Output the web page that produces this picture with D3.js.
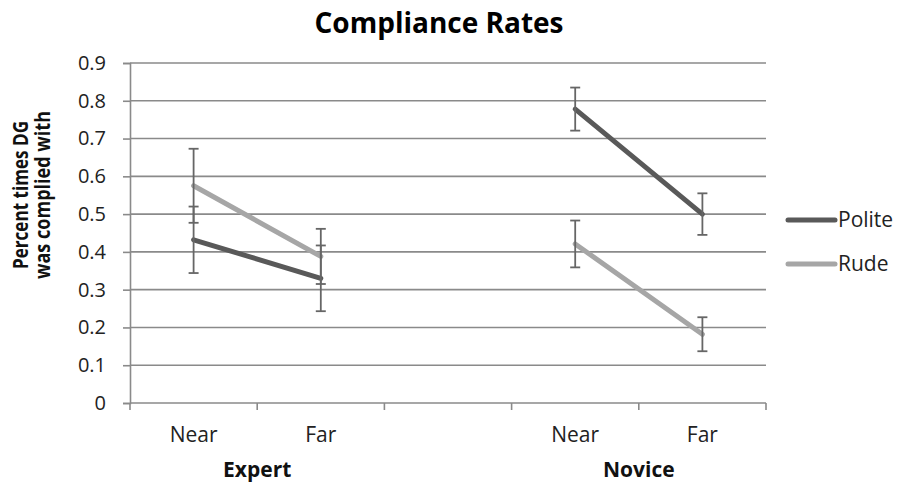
<!DOCTYPE html>
<html><head><meta charset="utf-8">
<script src="https://cdn.jsdelivr.net/npm/d3@7"></script>
<style>body{margin:0;background:#fff}text{font-family:"Open Sans","Liberation Sans",sans-serif}</style>
</head><body>
<svg id="c" width="899" height="482"></svg>
<script>
const categories = ["Expert|Near","Expert|Far","gap","Novice|Near","Novice|Far"];
const catLabels = ["Near","Far","","Near","Far"];
const groups = [{name:"Expert", from:0, to:1},{name:"Novice", from:3, to:4}];
const politeVals = [0.432, 0.330, null, 0.778, 0.500];
const politeErr  = [0.088, 0.087, null, 0.057, 0.055];
const rudeVals   = [0.575, 0.388, null, 0.421, 0.182];
const rudeErr    = [0.098, 0.073, null, 0.062, 0.045];
const yTicks = [0,0.1,0.2,0.3,0.4,0.5,0.6,0.7,0.8,0.9];
const seriesNames = ["Polite","Rude"];
const seriesColors = ["#595959","#a6a6a6"];

const svg = d3.select("#c");
const L=130, R=766, T=63, B=403;
const x = d3.scaleBand().domain(categories).range([L,R]);
const y = d3.scaleLinear().domain([0,0.9]).range([B,T]);
const cx = c => x(c)+x.bandwidth()/2;
const grid = "#8a8a8a";

// gridlines
svg.append("g").selectAll("line").data(yTicks.filter(d=>d>0)).join("line")
  .attr("x1",L).attr("x2",R).attr("y1",d=>y(d)).attr("y2",d=>y(d))
  .attr("stroke",grid).attr("stroke-width",1.6);

// y axis
const ya = svg.append("g").attr("transform",`translate(${L},0)`)
  .call(d3.axisLeft(y).tickValues(yTicks).tickSize(7).tickPadding(17).tickFormat(d=>d===0?"0":d3.format(".1f")(d)));
ya.select(".domain").attr("stroke",grid).attr("stroke-width",1.6);
ya.selectAll(".tick line").attr("stroke",grid).attr("stroke-width",1.6);
ya.selectAll(".tick text").attr("font-size",20).attr("fill","#222").attr("font-family","'Open Sans',sans-serif");

// x axis
svg.append("line").attr("x1",L).attr("x2",R).attr("y1",B).attr("y2",B).attr("stroke",grid).attr("stroke-width",1.6);
const bounds = categories.map(c=>x(c)).concat([R]);
svg.append("g").selectAll("line").data(bounds).join("line")
  .attr("x1",d=>d).attr("x2",d=>d).attr("y1",B).attr("y2",B+7)
  .attr("stroke",grid).attr("stroke-width",1.6);
svg.append("g").selectAll("text").data(categories).join("text")
  .attr("x",cx).attr("y",442).attr("text-anchor","middle")
  .attr("font-size",21).attr("fill","#222").text((d,i)=>catLabels[i]);
svg.append("g").selectAll("text").data(groups).join("text")
  .attr("x",g=>(cx(categories[g.from])+cx(categories[g.to]))/2).attr("y",477)
  .attr("text-anchor","middle").attr("font-size",21).attr("font-weight","bold").attr("fill","#111")
  .text(g=>g.name);

// series
const series = [
  {name:seriesNames[0], vals:politeVals, err:politeErr, color:seriesColors[0]},
  {name:seriesNames[1], vals:rudeVals, err:rudeErr, color:seriesColors[1]}
];
const line = d3.line().defined(d=>d.v!=null).x(d=>cx(d.c)).y(d=>y(d.v));
series.forEach(s=>{
  const pts = categories.map((c,i)=>({c, v:s.vals[i], e:s.err[i]}));
  groups.forEach(g=>{
    const seg = pts.slice(g.from,g.to+1);
    svg.append("path").datum(seg).attr("d",line).attr("fill","none")
      .attr("stroke",s.color).attr("stroke-width",5).attr("stroke-linecap","round");
  });
});
// error bars
series.forEach(s=>{
  const pts = categories.map((c,i)=>({c, v:s.vals[i], e:s.err[i]})).filter(d=>d.v!=null);
  const g = svg.append("g").attr("stroke","#666").attr("stroke-width",1.8);
  g.selectAll(".v").data(pts).join("line").attr("x1",d=>cx(d.c)).attr("x2",d=>cx(d.c))
    .attr("y1",d=>y(d.v+d.e)).attr("y2",d=>y(d.v-d.e));
  g.selectAll(".t").data(pts).join("line").attr("x1",d=>cx(d.c)-5).attr("x2",d=>cx(d.c)+5)
    .attr("y1",d=>y(d.v+d.e)).attr("y2",d=>y(d.v+d.e));
  g.selectAll(".b").data(pts).join("line").attr("x1",d=>cx(d.c)-5).attr("x2",d=>cx(d.c)+5)
    .attr("y1",d=>y(d.v-d.e)).attr("y2",d=>y(d.v-d.e));
});

// legend
const lg = svg.append("g");
series.forEach((s,i)=>{
  const yy = 220 + i*44;
  lg.append("line").attr("x1",788).attr("x2",835).attr("y1",yy).attr("y2",yy)
    .attr("stroke",s.color).attr("stroke-width",5).attr("stroke-linecap","round");
  lg.append("text").attr("x",838).attr("y",yy+7).attr("font-size",21).attr("fill","#222").text(s.name);
});

// title
svg.append("text").attr("x",439).attr("y",33).attr("text-anchor","middle")
  .attr("font-size",28).attr("font-weight","bold").attr("fill","#000").text("Compliance Rates");

// y title
const yt = svg.append("text").attr("transform","translate(0,195) rotate(-90)")
  .attr("text-anchor","middle").attr("font-size",21).attr("font-weight","bold").attr("fill","#111");
yt.append("tspan").attr("x",0).attr("y",28).attr("textLength",148).attr("lengthAdjust","spacingAndGlyphs").text("Percent times DG");
yt.append("tspan").attr("x",0).attr("y",50).attr("textLength",168).attr("lengthAdjust","spacingAndGlyphs").text("was complied with");
</script>
</body></html>
